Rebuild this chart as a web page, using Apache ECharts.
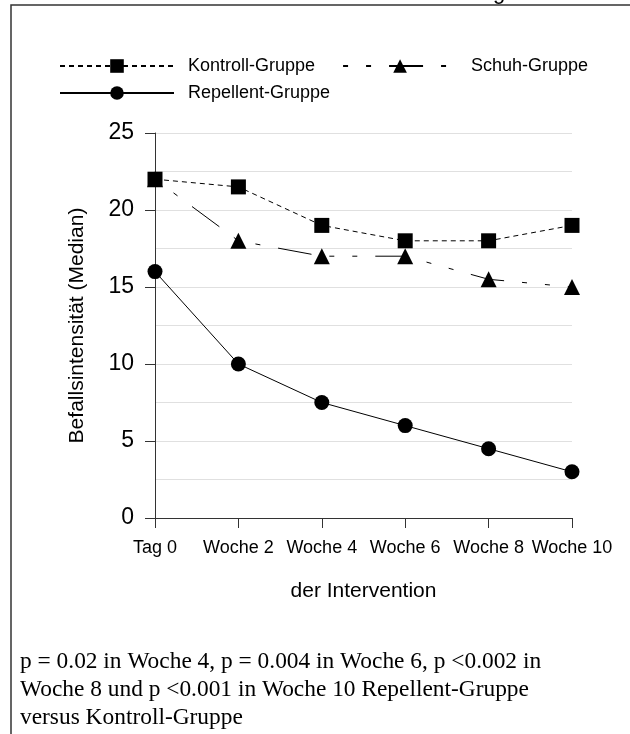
<!DOCTYPE html>
<html>
<head>
<meta charset="utf-8">
<script src="https://cdn.jsdelivr.net/npm/echarts@6/dist/echarts.min.js"></script>
<style>
  html, body { margin: 0; padding: 0; background: #fff; }
  #main { width: 630px; height: 734px; }
</style>
</head>
<body>
<div id="main"></div>
<script>
// Zeitpunkte und Mediane je Gruppe
var zeitpunkte = ['Tag 0', 'Woche 2', 'Woche 4', 'Woche 6', 'Woche 8', 'Woche 10'];
var kontroll = [22, 21.5, 19, 18, 18, 19];
var schuh = [22, 18, 17, 17, 15.5, 15];
var repellent = [16, 10, 7.5, 6, 4.5, 3];
var yTicks = [0, 25, 5]; // min, max, interval

var fontSans = '"Liberation Sans", Arial, sans-serif';
var fontSerif = '"Liberation Serif", "Times New Roman", serif';

var chart = echarts.init(document.getElementById('main'));

var option = {
    backgroundColor: '#fff',
    animation: false,
    textStyle: { fontFamily: fontSans, color: '#000' },
    grid: { left: 155, right: 58, top: 133, bottom: 216 },
    legend: [{
        left: 54, top: 52,
        itemWidth: 114, itemHeight: 17, itemGap: 27,
        textStyle: { fontSize: 18, color: '#000', padding: [0, 0, 0, 9] },
        data: ['Kontroll-Gruppe', 'Schuh-Gruppe']
    }, {
        left: 54, top: 79,
        itemWidth: 114, itemHeight: 17,
        textStyle: { fontSize: 18, color: '#000', padding: [0, 0, 0, 9] },
        data: ['Repellent-Gruppe']
    }],
    xAxis: {
        type: 'category',
        data: zeitpunkte,
        boundaryGap: false,
        name: 'der Intervention',
        nameLocation: 'middle',
        nameGap: 63,
        nameTextStyle: { fontSize: 21, color: '#000' },
        axisLine: { lineStyle: { color: '#333', width: 1 } },
        axisTick: { show: true, interval: 0, length: 10, lineStyle: { color: '#333' } },
        axisLabel: { interval: 0, hideOverlap: false, fontSize: 18, color: '#000', margin: 21 },
        splitLine: { show: false }
    },
    yAxis: {
        type: 'value',
        min: yTicks[0], max: yTicks[1], interval: yTicks[2],
        name: 'Befallsintensität (Median)',
        nameLocation: 'middle',
        nameGap: 67,
        nameTextStyle: { fontSize: 21, color: '#000' },
        axisLine: { show: true, lineStyle: { color: '#333', width: 1 } },
        axisTick: { show: true, length: 10, lineStyle: { color: '#333' } },
        axisLabel: { fontSize: 23, color: '#000', margin: 21 },
        splitLine: { show: true, lineStyle: { color: '#e0e0e0', width: 1 } },
        minorTick: { show: false, splitNumber: 2 },
        minorSplitLine: { show: true, lineStyle: { color: '#e0e0e0', width: 1 } }
    },
    series: [{
        name: 'Kontroll-Gruppe',
        type: 'line',
        data: kontroll,
        symbol: 'rect',
        symbolSize: 15,
        itemStyle: { color: '#000' },
        lineStyle: { color: '#000', width: 1, type: [5, 4] },
        z: 3
    }, {
        name: 'Schuh-Gruppe',
        type: 'line',
        data: schuh,
        symbol: 'triangle',
        symbolSize: 16,
        itemStyle: { color: '#000' },
        lineStyle: { color: '#000', width: 1, type: [5, 18, 5, 18, 34, 18] },
        z: 2
    }, {
        name: 'Repellent-Gruppe',
        type: 'line',
        data: repellent,
        symbol: 'circle',
        symbolSize: 15,
        itemStyle: { color: '#000' },
        lineStyle: { color: '#000', width: 1 },
        z: 2
    }],
    graphic: [{
        type: 'polyline',
        shape: { points: [[11, 734], [11, 5], [630, 5]] },
        style: { stroke: '#333', lineWidth: 1.5, fill: null }
    }, {
        type: 'text',
        x: 493, y: 4,
        style: { text: 'g', font: '22px ' + fontSans, fill: '#000', verticalAlign: 'bottom' }
    }, {
        type: 'text',
        left: 20, top: 648,
        style: {
            text: 'p = 0.02 in Woche 4, p = 0.004 in Woche 6, p <0.002 in\nWoche 8 und p <0.001 in Woche 10 Repellent-Gruppe\nversus Kontroll-Gruppe',
            font: '23.4px ' + fontSerif,
            lineHeight: 28,
            fill: '#000'
        }
    }]
};

chart.setOption(option);
</script>
</body>
</html>
